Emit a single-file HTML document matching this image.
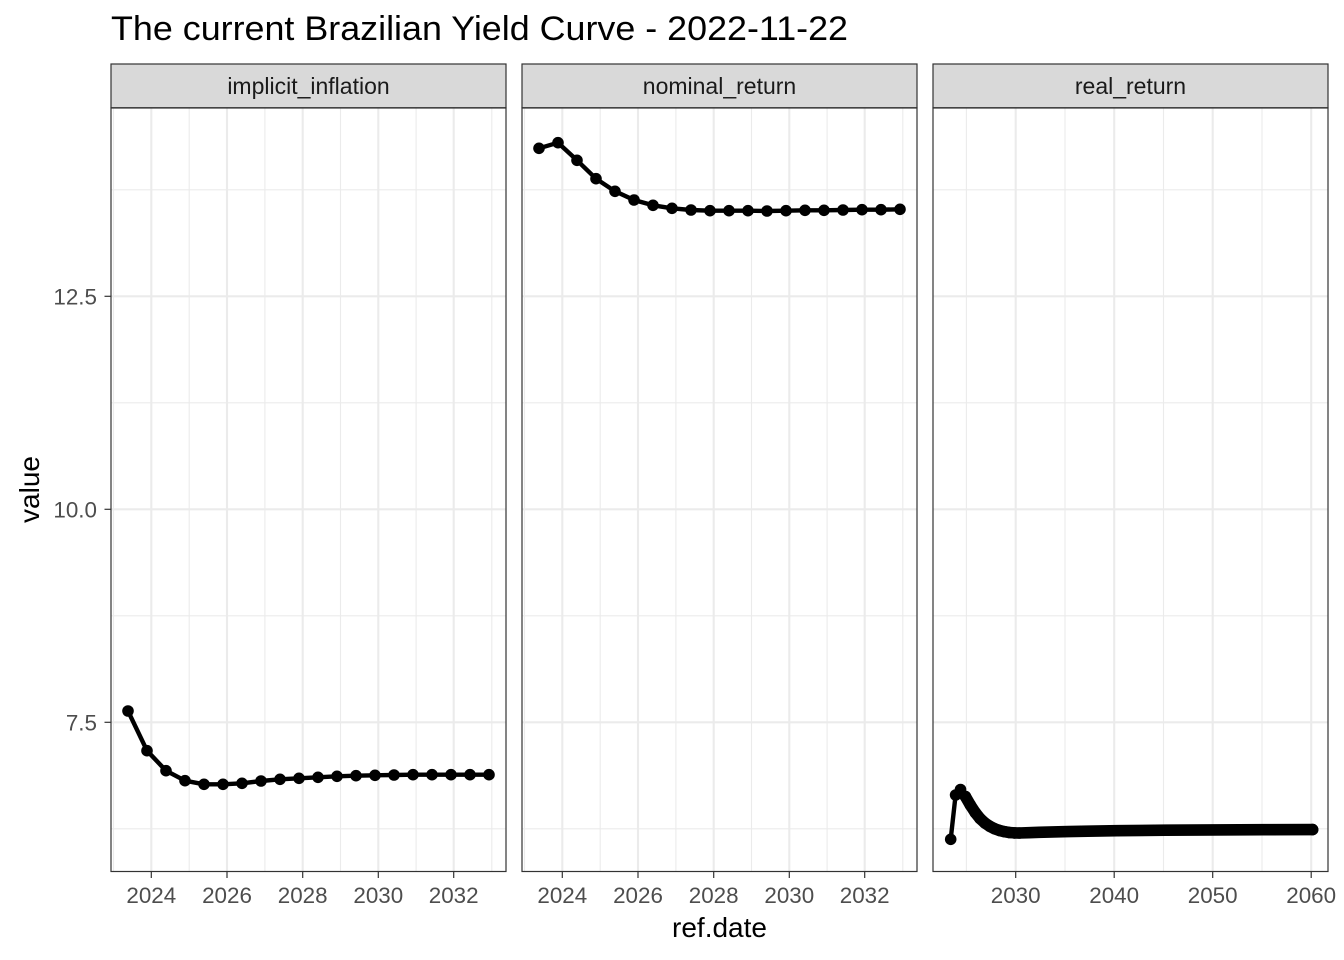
<!DOCTYPE html>
<html><head><meta charset="utf-8"><style>
html,body{margin:0;padding:0;background:#fff;}
svg{display:block;}
text{font-family:"Liberation Sans",Arial,sans-serif;}
</style></head><body>
<svg width="1344" height="960" viewBox="0 0 1344 960" xmlns="http://www.w3.org/2000/svg">
<rect x="0" y="0" width="1344" height="960" fill="#fff"/>
<text x="111" y="40" font-size="34" fill="#000" textLength="737" lengthAdjust="spacingAndGlyphs">The current Brazilian Yield Curve - 2022-11-22</text>

<!-- Panel 1 -->
<g>
<rect x="111" y="108" width="395" height="763.5" fill="#fff"/>
<g stroke="#EBEBEB" stroke-width="1.1">
<line x1="111" x2="506" y1="828.8" y2="828.8"/><line x1="111" x2="506" y1="615.8" y2="615.8"/><line x1="111" x2="506" y1="402.8" y2="402.8"/><line x1="111" x2="506" y1="189.8" y2="189.8"/>
<line x1="113.5" x2="113.5" y1="108" y2="871.5"/><line x1="189.2" x2="189.2" y1="108" y2="871.5"/><line x1="264.9" x2="264.9" y1="108" y2="871.5"/><line x1="340.5" x2="340.5" y1="108" y2="871.5"/><line x1="416.1" x2="416.1" y1="108" y2="871.5"/><line x1="491.8" x2="491.8" y1="108" y2="871.5"/>
</g>
<g stroke="#EBEBEB" stroke-width="2.1">
<line x1="111" x2="506" y1="722.3" y2="722.3"/><line x1="111" x2="506" y1="509.3" y2="509.3"/><line x1="111" x2="506" y1="296.3" y2="296.3"/>
<line x1="151.3" x2="151.3" y1="108" y2="871.5"/><line x1="227" x2="227" y1="108" y2="871.5"/><line x1="302.7" x2="302.7" y1="108" y2="871.5"/><line x1="378.3" x2="378.3" y1="108" y2="871.5"/><line x1="453.7" x2="453.7" y1="108" y2="871.5"/>
</g>
<polyline fill="none" stroke="#000" stroke-width="4.4" stroke-linejoin="round" points="128,711 147,750.7 166,770.7 185,780.7 204,784.3 223,784.3 242,783.3 261,781 280,779.3 299,778.3 318,777.3 337,776.3 356,775.7 375,775.3 394,775 413,774.7 432,774.7 451,774.7 470,774.7 489,774.7"/>
<g fill="#000">
<circle cx="128" cy="711" r="5.8"/><circle cx="147" cy="750.7" r="5.8"/><circle cx="166" cy="770.7" r="5.8"/><circle cx="185" cy="780.7" r="5.8"/><circle cx="204" cy="784.3" r="5.8"/><circle cx="223" cy="784.3" r="5.8"/><circle cx="242" cy="783.3" r="5.8"/><circle cx="261" cy="781" r="5.8"/><circle cx="280" cy="779.3" r="5.8"/><circle cx="299" cy="778.3" r="5.8"/><circle cx="318" cy="777.3" r="5.8"/><circle cx="337" cy="776.3" r="5.8"/><circle cx="356" cy="775.7" r="5.8"/><circle cx="375" cy="775.3" r="5.8"/><circle cx="394" cy="775" r="5.8"/><circle cx="413" cy="774.7" r="5.8"/><circle cx="432" cy="774.7" r="5.8"/><circle cx="451" cy="774.7" r="5.8"/><circle cx="470" cy="774.7" r="5.8"/><circle cx="489" cy="774.7" r="5.8"/>
</g>
<rect x="111" y="108" width="395" height="763.5" fill="none" stroke="#333" stroke-width="1.2"/>
<rect x="111" y="64" width="395" height="43.7" fill="#D9D9D9" stroke="#333" stroke-width="1.2"/>
<text x="308.5" y="94" font-size="23" fill="#1A1A1A" text-anchor="middle">implicit_inflation</text>
</g>

<!-- Panel 2 -->
<g>
<rect x="522" y="108" width="395" height="763.5" fill="#fff"/>
<g stroke="#EBEBEB" stroke-width="1.1">
<line x1="522" x2="917" y1="828.8" y2="828.8"/><line x1="522" x2="917" y1="615.8" y2="615.8"/><line x1="522" x2="917" y1="402.8" y2="402.8"/><line x1="522" x2="917" y1="189.8" y2="189.8"/>
<line x1="524.5" x2="524.5" y1="108" y2="871.5"/><line x1="600.2" x2="600.2" y1="108" y2="871.5"/><line x1="675.9" x2="675.9" y1="108" y2="871.5"/><line x1="751.5" x2="751.5" y1="108" y2="871.5"/><line x1="827.1" x2="827.1" y1="108" y2="871.5"/><line x1="902.8" x2="902.8" y1="108" y2="871.5"/>
</g>
<g stroke="#EBEBEB" stroke-width="2.1">
<line x1="522" x2="917" y1="722.3" y2="722.3"/><line x1="522" x2="917" y1="509.3" y2="509.3"/><line x1="522" x2="917" y1="296.3" y2="296.3"/>
<line x1="562.3" x2="562.3" y1="108" y2="871.5"/><line x1="638" x2="638" y1="108" y2="871.5"/><line x1="713.7" x2="713.7" y1="108" y2="871.5"/><line x1="789.3" x2="789.3" y1="108" y2="871.5"/><line x1="864.7" x2="864.7" y1="108" y2="871.5"/>
</g>
<polyline fill="none" stroke="#000" stroke-width="4.4" stroke-linejoin="round" points="539,148.3 558,142.7 577,160.3 596,178.7 615,191.3 634,200 653,205.3 672,208.3 691,210 710,210.7 729,210.7 748,210.7 767,211 786,210.7 805,210.3 824,210.3 843,210 862,209.7 881,209.7 900,209.3"/>
<g fill="#000">
<circle cx="539" cy="148.3" r="5.8"/><circle cx="558" cy="142.7" r="5.8"/><circle cx="577" cy="160.3" r="5.8"/><circle cx="596" cy="178.7" r="5.8"/><circle cx="615" cy="191.3" r="5.8"/><circle cx="634" cy="200" r="5.8"/><circle cx="653" cy="205.3" r="5.8"/><circle cx="672" cy="208.3" r="5.8"/><circle cx="691" cy="210" r="5.8"/><circle cx="710" cy="210.7" r="5.8"/><circle cx="729" cy="210.7" r="5.8"/><circle cx="748" cy="210.7" r="5.8"/><circle cx="767" cy="211" r="5.8"/><circle cx="786" cy="210.7" r="5.8"/><circle cx="805" cy="210.3" r="5.8"/><circle cx="824" cy="210.3" r="5.8"/><circle cx="843" cy="210" r="5.8"/><circle cx="862" cy="209.7" r="5.8"/><circle cx="881" cy="209.7" r="5.8"/><circle cx="900" cy="209.3" r="5.8"/>
</g>
<rect x="522" y="108" width="395" height="763.5" fill="none" stroke="#333" stroke-width="1.2"/>
<rect x="522" y="64" width="395" height="43.7" fill="#D9D9D9" stroke="#333" stroke-width="1.2"/>
<text x="719.5" y="94" font-size="23" fill="#1A1A1A" text-anchor="middle">nominal_return</text>
</g>

<!-- Panel 3 -->
<g>
<rect x="933" y="108" width="395" height="763.5" fill="#fff"/>
<g stroke="#EBEBEB" stroke-width="1.1">
<line x1="933" x2="1328" y1="828.8" y2="828.8"/><line x1="933" x2="1328" y1="615.8" y2="615.8"/><line x1="933" x2="1328" y1="402.8" y2="402.8"/><line x1="933" x2="1328" y1="189.8" y2="189.8"/>
<line x1="966.4" x2="966.4" y1="108" y2="871.5"/><line x1="1065" x2="1065" y1="108" y2="871.5"/><line x1="1163.5" x2="1163.5" y1="108" y2="871.5"/><line x1="1262" x2="1262" y1="108" y2="871.5"/>
</g>
<g stroke="#EBEBEB" stroke-width="2.1">
<line x1="933" x2="1328" y1="722.3" y2="722.3"/><line x1="933" x2="1328" y1="509.3" y2="509.3"/><line x1="933" x2="1328" y1="296.3" y2="296.3"/>
<line x1="1015.7" x2="1015.7" y1="108" y2="871.5"/><line x1="1114.2" x2="1114.2" y1="108" y2="871.5"/><line x1="1212.7" x2="1212.7" y1="108" y2="871.5"/><line x1="1311.2" x2="1311.2" y1="108" y2="871.5"/>
</g>
<polyline fill="none" stroke="#000" stroke-width="4.4" stroke-linejoin="round" points="950.7,839.3 955.6,795 960.5,789.5 965.4,796.5 970.3,805 975.2,812.5 980,818.5 984.9,823 989.8,826.3 994.7,828.8 999.6,830.5 1004.5,831.7 1009.4,832.5 1014.3,832.9 1019.2,833"/>
<polyline fill="none" stroke="#000" stroke-width="11.6" stroke-linejoin="round" stroke-linecap="round" points="965.4,796.5 970.3,805 975.2,812.5 980,818.5 984.9,823 989.8,826.3 994.7,828.8 999.6,830.5 1004.5,831.7 1009.4,832.5 1014.3,832.9 1019.2,833 1029,832.66 1038.8,832.35 1048.5,832.07 1058.3,831.81 1068.1,831.58 1087.7,831.19 1117,830.72 1165.9,830.2 1214.8,829.89 1263.7,829.7 1312.6,829.58"/>
<g fill="#000">
<circle cx="950.7" cy="839.3" r="5.8"/><circle cx="955.6" cy="795" r="5.8"/><circle cx="960.5" cy="789.5" r="5.8"/><circle cx="965.4" cy="796.5" r="5.8"/><circle cx="970.3" cy="805" r="5.8"/><circle cx="975.2" cy="812.5" r="5.8"/><circle cx="980" cy="818.5" r="5.8"/><circle cx="984.9" cy="823" r="5.8"/><circle cx="989.8" cy="826.3" r="5.8"/><circle cx="994.7" cy="828.8" r="5.8"/><circle cx="999.6" cy="830.5" r="5.8"/><circle cx="1004.5" cy="831.7" r="5.8"/><circle cx="1009.4" cy="832.5" r="5.8"/><circle cx="1014.3" cy="832.9" r="5.8"/><circle cx="1019.2" cy="833" r="5.8"/><circle cx="1312.6" cy="829.58" r="5.8"/>
</g>
<rect x="933" y="108" width="395" height="763.5" fill="none" stroke="#333" stroke-width="1.2"/>
<rect x="933" y="64" width="395" height="43.7" fill="#D9D9D9" stroke="#333" stroke-width="1.2"/>
<text x="1130.5" y="94" font-size="23" fill="#1A1A1A" text-anchor="middle">real_return</text>
</g>

<!-- Y axis -->
<g stroke="#333" stroke-width="1.2">
<line x1="104.5" x2="111" y1="722.3" y2="722.3"/><line x1="104.5" x2="111" y1="509.3" y2="509.3"/><line x1="104.5" x2="111" y1="296.3" y2="296.3"/>
</g>
<g font-size="22.4" fill="#4D4D4D" text-anchor="end">
<text x="97" y="730.3">7.5</text><text x="97" y="517.3">10.0</text><text x="97" y="304.3">12.5</text>
</g>
<text transform="translate(39,489.5) rotate(-90)" font-size="28" fill="#000" text-anchor="middle">value</text>

<!-- X axes -->
<g stroke="#333" stroke-width="1.2">
<line x1="151.3" x2="151.3" y1="871.5" y2="878"/><line x1="227" x2="227" y1="871.5" y2="878"/><line x1="302.7" x2="302.7" y1="871.5" y2="878"/><line x1="378.3" x2="378.3" y1="871.5" y2="878"/><line x1="453.7" x2="453.7" y1="871.5" y2="878"/>
<line x1="562.3" x2="562.3" y1="871.5" y2="878"/><line x1="638" x2="638" y1="871.5" y2="878"/><line x1="713.7" x2="713.7" y1="871.5" y2="878"/><line x1="789.3" x2="789.3" y1="871.5" y2="878"/><line x1="864.7" x2="864.7" y1="871.5" y2="878"/>
<line x1="1015.7" x2="1015.7" y1="871.5" y2="878"/><line x1="1114.2" x2="1114.2" y1="871.5" y2="878"/><line x1="1212.7" x2="1212.7" y1="871.5" y2="878"/><line x1="1311.2" x2="1311.2" y1="871.5" y2="878"/>
</g>
<g font-size="22.4" fill="#4D4D4D" text-anchor="middle">
<text x="151.3" y="903">2024</text><text x="227" y="903">2026</text><text x="302.7" y="903">2028</text><text x="378.3" y="903">2030</text><text x="453.7" y="903">2032</text>
<text x="562.3" y="903">2024</text><text x="638" y="903">2026</text><text x="713.7" y="903">2028</text><text x="789.3" y="903">2030</text><text x="864.7" y="903">2032</text>
<text x="1015.7" y="903">2030</text><text x="1114.2" y="903">2040</text><text x="1212.7" y="903">2050</text><text x="1311.2" y="903">2060</text>
</g>
<text x="719.5" y="937" font-size="28" fill="#000" text-anchor="middle">ref.date</text>
</svg>
</body></html>
